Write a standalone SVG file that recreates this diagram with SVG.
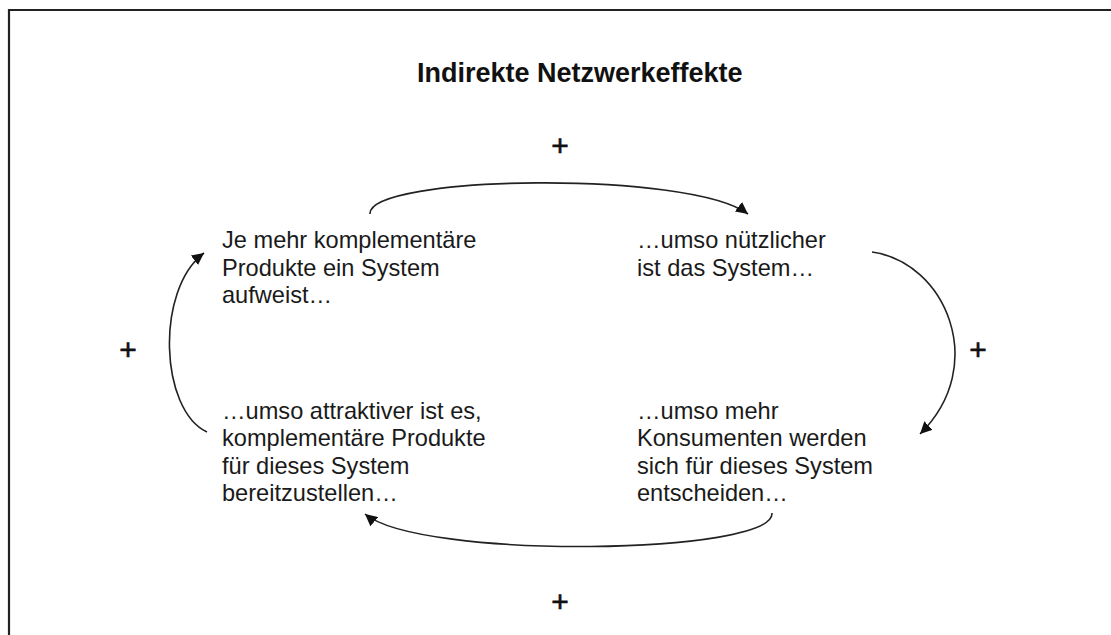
<svg xmlns="http://www.w3.org/2000/svg" width="1111" height="635" viewBox="0 0 1111 635">
<defs>
<style>
.t{font-family:"Liberation Sans",Arial,sans-serif;font-size:23.6px;fill:#1a1a1a}
.h{font-family:"Liberation Sans",Arial,sans-serif;font-size:27px;font-weight:bold;fill:#111}
.p{font-family:"Liberation Sans",Arial,sans-serif;font-size:30px;fill:#111;text-anchor:middle;stroke:#111;stroke-width:0.6}
.c{fill:none;stroke:#222;stroke-width:1.6}
</style>
<marker id="ah" viewBox="0 0 10 10" refX="10" refY="5" markerWidth="12" markerHeight="12" markerUnits="userSpaceOnUse" orient="auto">
<path d="M0,0 L10,5 L0,10 z" fill="#111"/>
</marker>
</defs>
<rect width="1111" height="635" fill="#fff"/>
<path d="M9,635 L9,10 L1111,10" fill="none" stroke="#222" stroke-width="2.2"/>
<text class="h" x="417" y="82">Indirekte Netzwerkeffekte</text>
<g id="connectors">
<path class="c" d="M370,214 C368,175 690,170 748,214" marker-end="url(#ah)"/>
<path class="c" d="M872,252 C945,262 990,365 920,434" marker-end="url(#ah)"/>
<path class="c" d="M772,513 C775,555 420,560 365,514" marker-end="url(#ah)"/>
<path class="c" d="M207,432 C160,410 155,290 204,253" marker-end="url(#ah)"/>
</g>
<g id="plus-top"><text class="p" x="560" y="156">+</text></g>
<g id="plus-right"><text class="p" x="978" y="360">+</text></g>
<g id="plus-bottom"><text class="p" x="560" y="612">+</text></g>
<g id="plus-left"><text class="p" x="128" y="360">+</text></g>
<g id="node-tl">
<text class="t" x="222" y="248">Je mehr komplementäre</text>
<text class="t" x="222" y="275.5">Produkte ein System</text>
<text class="t" x="222" y="303">aufweist…</text>
</g>
<g id="node-tr">
<text class="t" x="637" y="248">…umso nützlicher</text>
<text class="t" x="637" y="275.5">ist das System…</text>
</g>
<g id="node-br">
<text class="t" x="637" y="419">…umso mehr</text>
<text class="t" x="637" y="446">Konsumenten werden</text>
<text class="t" x="637" y="473.5">sich für dieses System</text>
<text class="t" x="637" y="501">entscheiden…</text>
</g>
<g id="node-bl">
<text class="t" x="222" y="419">…umso attraktiver ist es,</text>
<text class="t" x="222" y="446">komplementäre Produkte</text>
<text class="t" x="222" y="473.5">für dieses System</text>
<text class="t" x="222" y="501">bereitzustellen…</text>
</g>
</svg>
